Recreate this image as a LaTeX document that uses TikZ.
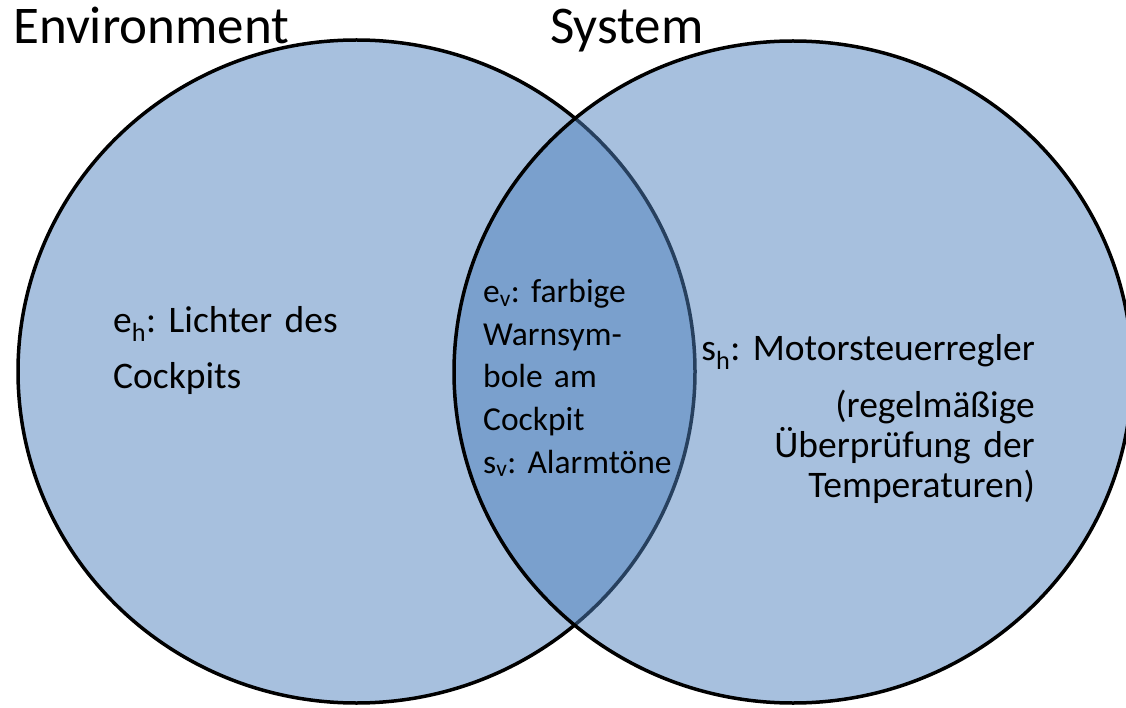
\documentclass[tikz,border=0pt]{standalone}
\usepackage{fontspec}
\setmainfont{Carlito}
\frenchspacing
\definecolor{setblue}{RGB}{79,129,189}
\begin{document}
\begin{tikzpicture}[x=1pt,y=-1pt,
  setarea/.style={fill=setblue, fill opacity=0.5, draw=black, line width=3.5pt},
  title/.style={font=\fontsize{53}{60}\selectfont, inner sep=0pt, anchor=base west},
  body/.style={inner sep=0pt, anchor=base west}]
\useasboundingbox (0,0) rectangle (1126,708);

% the two sets, half transparent so the overlap comes out darker
\path[setarea] (356.5,371.5) ellipse [x radius=338.5, y radius=331.5];
\path[setarea] (793,372) ellipse [x radius=339, y radius=331];

% set names
\node[title] (envtitle) at (13,44) {Environment};
\node[title] (systitle) at (550,44) {System};

% contents of each region
\node[body, text width=300pt, align=left, font=\fontsize{37.5}{56}\selectfont]
  (envtext) at (113,332) {e\textsubscript{h}: Lichter des\\Cockpits};
\node[body, text width=230pt, align=left, font=\fontsize{33.5}{42.5}\selectfont]
  (lenstext) at (483,303) {e\textsubscript{v}: farbige\\Warnsym-\\bole am\\Cockpit\\s\textsubscript{v}: Alarmtöne};
\node[body, anchor=base east, text width=400pt, align=right, font=\fontsize{37.5}{40}\selectfont]
  (systext) at (1035,360) {s\textsubscript{h}: Motorsteuerregler\\[17pt](regelmäßige\\Überprüfung der\\Temperaturen)};
\end{tikzpicture}
\end{document}
